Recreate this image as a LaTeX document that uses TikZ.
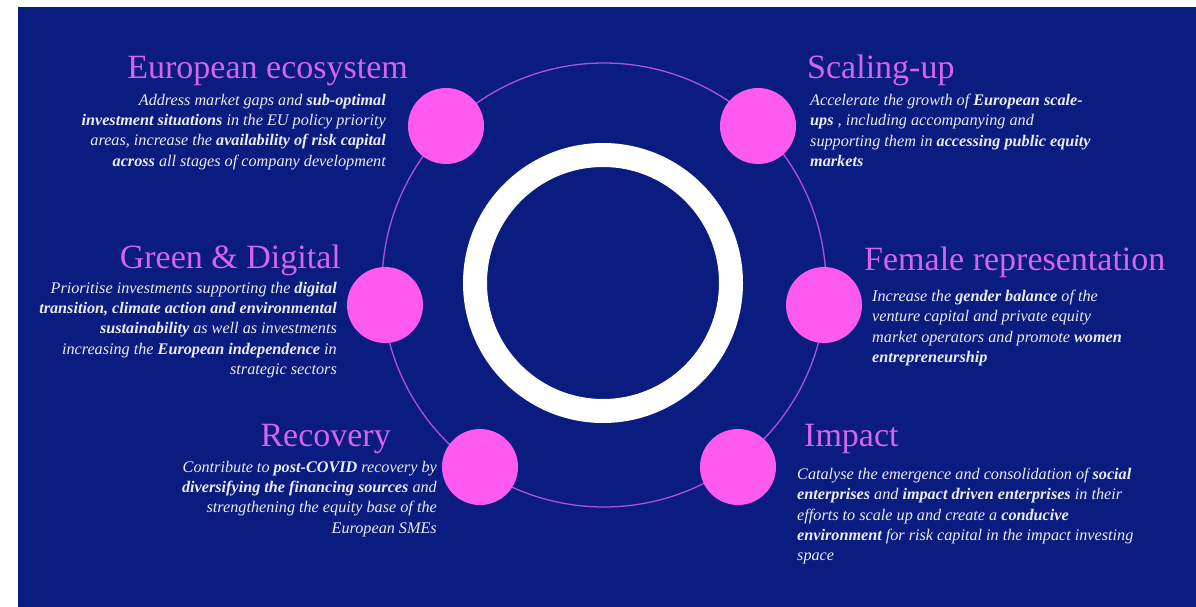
\documentclass[tikz,border=0pt]{standalone}
\usepackage{fontspec}
\setmainfont{Liberation Serif}
\definecolor{bgblue}{RGB}{10,28,128}
\definecolor{dotpink}{RGB}{255,90,240}
\definecolor{titlepink}{RGB}{214,100,236}
\definecolor{orbitcol}{RGB}{175,80,225}
\definecolor{bodytext}{RGB}{236,236,246}
\begin{document}
\begin{tikzpicture}[x=1pt,y=-1pt,
  dotnode/.style={circle,fill=dotpink,draw=none,minimum size=76pt,inner sep=0pt},
  ringnode/.style={circle,draw=white,line width=24pt,minimum size=256pt,inner sep=0pt},
  orbitnode/.style={circle,draw=orbitcol,line width=1.3pt,minimum size=444pt,inner sep=0pt},
  titletext/.style={text=titlepink,inner sep=0pt,font=\fontsize{34}{38}\selectfont},
  bodyleft/.style={text=bodytext,inner sep=0pt,align=left,anchor=north west,font=\fontsize{16.2}{20.2}\selectfont\itshape},
  bodyright/.style={text=bodytext,inner sep=0pt,align=right,anchor=north east,font=\fontsize{16.2}{20.2}\selectfont\itshape}]
\useasboundingbox (0,0) rectangle (1196,607);
\fill[white] (0,0) rectangle (1196,607);
\fill[bgblue] (18,7) rectangle (1196,607);
\node[orbitnode] (orbit) at (604,285) {};
\node[ringnode] (ring) at (603,283) {};
\node[dotnode] (d1) at (446,126) {};
\node[dotnode] (d2) at (758,126) {};
\node[dotnode] (d3) at (385,305) {};
\node[dotnode] (d4) at (824,305) {};
\node[dotnode] (d5) at (480,467) {};
\node[dotnode] (d6) at (738,467) {};
% European ecosystem
\node[titletext,anchor=base east] (t1) at (408,79) {European ecosystem};
\node[bodyright] (b1) at (386,94) {Address market gaps and \textbf{sub-optimal}\\
\textbf{investment situations} in the EU policy priority\\
areas, increase the \textbf{availability of risk capital}\\
\textbf{across} all stages of company development};
% Scaling-up
\node[titletext,anchor=base west] (t2) at (807,79) {Scaling-up};
\node[bodyleft] (b2) at (810,94) {Accelerate the growth of \textbf{European scale-}\\
\textbf{ups} , including accompanying and\\
supporting them in \textbf{accessing public equity}\\
\textbf{markets}};
% Green & Digital
\node[titletext,anchor=base east] (t3) at (341,268) {Green \& Digital};
\node[bodyright] (b3) at (337,282) {Prioritise investments supporting the \textbf{digital}\\
\textbf{transition, climate action and environmental}\\
\textbf{sustainability} as well as investments\\
increasing the \textbf{European independence} in\\
strategic sectors};
% Female representation
\node[titletext,anchor=base west] (t4) at (864,270) {Female representation};
\node[bodyleft] (b4) at (872,290) {Increase the \textbf{gender balance} of the\\
venture capital and private equity\\
market operators and promote \textbf{women}\\
\textbf{entrepreneurship}};
% Recovery
\node[titletext,anchor=base east] (t5) at (391,446) {Recovery};
\node[bodyright] (b5) at (437,461) {Contribute to \textbf{post-COVID} recovery by\\
\textbf{diversifying the financing sources} and\\
strengthening the equity base of the\\
European SMEs};
% Impact
\node[titletext,anchor=base west] (t6) at (804,446) {Impact};
\node[bodyleft] (b6) at (797,468) {Catalyse the emergence and consolidation of \textbf{social}\\
\textbf{enterprises} and \textbf{impact driven enterprises} in their\\
efforts to scale up and create a \textbf{conducive}\\
\textbf{environment} for risk capital in the impact investing\\
space};
\end{tikzpicture}
\end{document}
